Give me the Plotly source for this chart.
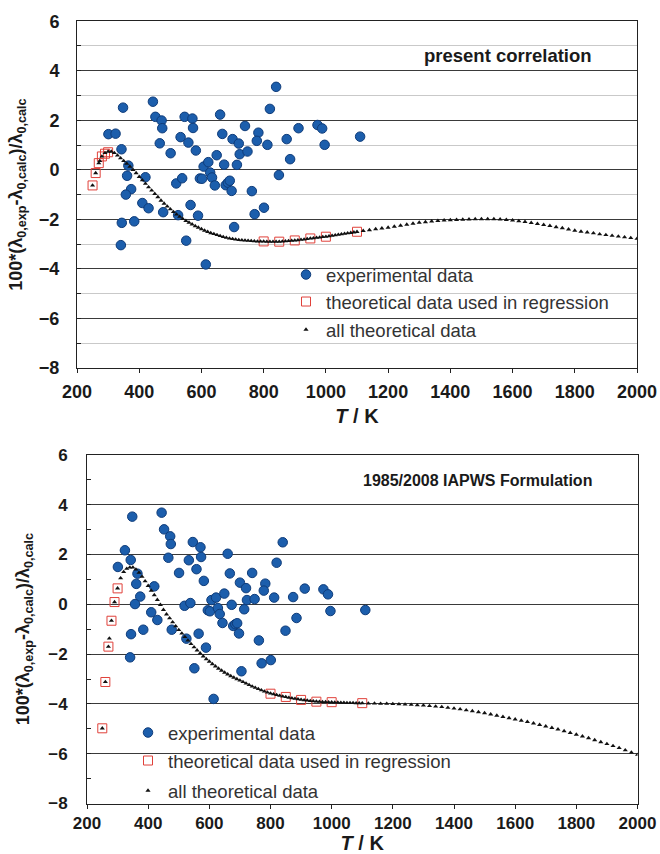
import plotly.graph_objects as go

# ---------------- data ----------------
T_exp = [348, 301, 324, 343, 365, 361, 374, 357, 344, 341,
         384, 410, 430, 420, 444, 452, 472, 474, 466, 501,
         477, 525, 519, 538, 533, 546, 558, 571, 573, 582,
         565, 589, 551, 614, 595, 602, 607, 622, 628, 634,
         643, 649, 660, 667, 673, 678, 685, 691, 697, 700,
         720, 723, 714, 705, 740, 748, 762, 771, 783, 778,
         801, 812, 820, 840, 849, 874, 885, 912, 973, 988,
         996, 1110]

dev_exp_present = [2.51, 1.44, 1.46, 0.83, 0.17, -0.24, -0.78, -1.00, -2.14, -3.04,
                   -2.08, -1.34, -1.55, -0.30, 2.75, 2.14, 1.99, 1.68, 1.07, 0.67,
                   -1.71, -1.83, -0.55, -0.34, 1.32, 2.14, 1.10, 2.07, 1.69, 0.78,
                   -1.42, -1.85, -2.86, -3.82, -0.35, -0.36, 0.13, 0.31, -0.11, -0.31,
                   -0.63, 0.59, 2.23, 1.45, 0.21, -0.62, -0.52, -0.44, -0.85, 1.24,
                   1.06, 0.63, 0.20, -2.31, 1.77, 0.74, -0.86, -1.79, 1.50, 1.17,
                   -1.53, 1.01, 2.46, 3.35, -0.21, 1.24, 0.43, 1.68, 1.81, 1.67,
                   1.01, 1.34]

dev_exp_iapws = [3.52, 1.50, 2.17, 1.78, 1.23, 0.82, 0.31, 0.01, -1.20, -2.13,
                 -1.02, -0.32, -0.63, 0.72, 3.68, 3.01, 2.73, 2.42, 1.87, 1.26,
                 -1.02, -1.38, -0.06, 0.05, 1.77, 2.50, 1.41, 2.29, 1.90, 0.94,
                 -1.18, -1.74, -2.57, -3.80, -0.24, -0.28, 0.17, 0.27, -0.15, -0.39,
                 -0.75, 0.43, 2.03, 1.24, -0.02, -0.87, -0.80, -0.76, -1.17, 0.87,
                 0.65, 0.17, -0.20, -2.69, 1.26, 0.21, -1.45, -2.37, 0.83, 0.55,
                 -2.24, 0.27, 1.67, 2.49, -1.06, 0.29, -0.55, 0.63, 0.60, 0.40,
                 -0.27, -0.23]

T_reg = [250, 260, 270, 280, 290, 300, 800, 850, 900, 950, 1000, 1100]
dev_reg_present = [-0.63, -0.13, 0.27, 0.54, 0.65, 0.71, -2.89, -2.90, -2.85, -2.77, -2.70, -2.50]
dev_reg_iapws = [-4.98, -3.12, -1.70, -0.66, 0.09, 0.64, -3.59, -3.72, -3.84, -3.91, -3.93, -3.97]

T_theo = [250, 260, 270, 273.15, 280, 290,
          300, 310, 320, 330, 340, 350, 360, 370, 380, 390,
          400, 410, 420, 430, 440, 450, 460, 470, 480, 490,
          500, 510, 520, 530, 540, 550, 560, 570, 580, 590,
          600, 610, 620, 630, 640, 650, 660, 670, 680, 690,
          700, 710, 720, 730, 740, 750, 760, 770, 780, 790,
          800, 810, 820, 830, 840, 850, 860, 870, 880, 890,
          900, 910, 920, 930, 940, 950, 960, 970, 980, 990,
          1000, 1010, 1020, 1030, 1040, 1050, 1060, 1070, 1080, 1090,
          1100, 1120, 1140, 1160, 1180,
          1200, 1220, 1240, 1260, 1280,
          1300, 1320, 1340, 1360, 1380,
          1400, 1420, 1440, 1460, 1480,
          1500, 1520, 1540, 1560, 1580,
          1600, 1620, 1640, 1660, 1680,
          1700, 1720, 1740, 1760, 1780,
          1800, 1820, 1840, 1860, 1880,
          1900, 1920, 1940, 1960, 1980,
          2000]

dev_theo_present = [-0.63, -0.13, 0.27, 0.36, 0.54, 0.68,
                    0.74, 0.74, 0.68, 0.58, 0.47, 0.36, 0.25, 0.13, 0.00, -0.13,
                    -0.28, -0.42, -0.56, -0.70, -0.83, -0.97, -1.10, -1.24, -1.36, -1.48,
                    -1.59, -1.70, -1.80, -1.89, -1.98, -2.06, -2.13, -2.20, -2.27, -2.33,
                    -2.39, -2.45, -2.50, -2.55, -2.59, -2.63, -2.67, -2.71, -2.74, -2.77,
                    -2.79, -2.81, -2.83, -2.84, -2.85, -2.86, -2.87, -2.88, -2.89, -2.89,
                    -2.89, -2.90, -2.90, -2.90, -2.90, -2.90, -2.89, -2.88, -2.87, -2.86,
                    -2.85, -2.84, -2.82, -2.81, -2.79, -2.77, -2.76, -2.74, -2.73, -2.71,
                    -2.70, -2.68, -2.66, -2.64, -2.62, -2.60, -2.58, -2.56, -2.54, -2.52,
                    -2.50, -2.46, -2.43, -2.39, -2.36,
                    -2.33, -2.29, -2.25, -2.21, -2.17,
                    -2.13, -2.11, -2.08, -2.06, -2.04,
                    -2.03, -2.02, -2.01, -2.00, -1.99,
                    -1.99, -1.99, -1.99, -2.00, -2.02,
                    -2.04, -2.07, -2.10, -2.14, -2.18,
                    -2.22, -2.26, -2.31, -2.35, -2.40,
                    -2.45, -2.49, -2.52, -2.56, -2.60,
                    -2.63, -2.66, -2.69, -2.72, -2.75,
                    -2.78]

dev_theo_iapws = [-4.98, -3.12, -1.70, -1.37, -0.66, 0.09,
                  0.64, 1.05, 1.30, 1.43, 1.48, 1.48, 1.40, 1.27, 1.11, 0.93,
                  0.74, 0.55, 0.37, 0.18, -0.02, -0.22, -0.40, -0.56, -0.72, -0.88,
                  -1.03, -1.17, -1.31, -1.45, -1.59, -1.72, -1.85, -1.97, -2.09, -2.20,
                  -2.30, -2.40, -2.49, -2.58, -2.66, -2.74, -2.81, -2.88, -2.94, -3.00,
                  -3.06, -3.12, -3.18, -3.24, -3.30, -3.35, -3.40, -3.45, -3.50, -3.54,
                  -3.58, -3.61, -3.64, -3.67, -3.70, -3.72, -3.75, -3.77, -3.79, -3.81,
                  -3.83, -3.85, -3.86, -3.88, -3.89, -3.90, -3.91, -3.92, -3.92, -3.93,
                  -3.93, -3.94, -3.94, -3.95, -3.95, -3.96, -3.96, -3.96, -3.97, -3.97,
                  -3.97, -3.98, -3.98, -3.99, -3.99,
                  -4.00, -4.01, -4.02, -4.03, -4.05,
                  -4.06, -4.08, -4.10, -4.12, -4.15,
                  -4.18, -4.21, -4.25, -4.29, -4.33,
                  -4.37, -4.42, -4.47, -4.52, -4.57,
                  -4.62, -4.67, -4.72, -4.78, -4.84,
                  -4.90, -4.96, -5.02, -5.09, -5.16,
                  -5.23, -5.30, -5.37, -5.45, -5.53,
                  -5.61, -5.69, -5.77, -5.86, -5.95,
                  -6.04]

x_ticks = [200, 400, 600, 800, 1000, 1200, 1400, 1600, 1800, 2000]
y_ticks = [6, 4, 2, 0, -2, -4, -6, -8]
legend_names = ["experimental data", "theoretical data used in regression", "all theoretical data"]
panel_titles = ["present correlation", "1985/2008 IAPWS Formulation"]

# ---------------- styles ----------------
FONT = "Liberation Sans, Arial, sans-serif"
BLUE = "#1c5eac"
BLUE_EDGE = "#0f3c7a"
RED = "#e0413a"
INK = "#1a1a1a"

W, H = 660, 854

fig = go.Figure()

panels = [
    dict(xa="x", ya="y", exp=dev_exp_present, reg=dev_reg_present, theo=dev_theo_present,
         legs=["legend", "legend2", "legend3"]),
    dict(xa="x2", ya="y2", exp=dev_exp_iapws, reg=dev_reg_iapws, theo=dev_theo_iapws,
         legs=["legend4", "legend5", "legend6"]),
]

for p in panels:
    fig.add_trace(go.Scatter(
        x=T_exp, y=p["exp"], mode="markers", name=legend_names[0],
        xaxis=p["xa"], yaxis=p["ya"], legend=p["legs"][0],
        marker=dict(symbol="circle", size=9.5, color=BLUE, line=dict(color=BLUE_EDGE, width=1)),
    ))
    fig.add_trace(go.Scatter(
        x=T_reg, y=p["reg"], mode="markers", name=legend_names[1],
        xaxis=p["xa"], yaxis=p["ya"], legend=p["legs"][1],
        marker=dict(symbol="square-open", size=9, color=RED, line=dict(width=1)),
    ))
    fig.add_trace(go.Scatter(
        x=T_theo, y=p["theo"], mode="markers", name=legend_names[2],
        xaxis=p["xa"], yaxis=p["ya"], legend=p["legs"][2],
        marker=dict(symbol="triangle-up", size=4.5, color="#111111"),
    ))

ytitle = "100*(λ<sub>0,exp</sub>-λ<sub>0,calc</sub>)/λ<sub>0,calc</sub>"

def xaxis(domain, anchor, fs, lab_off, title_off):
    return dict(
        domain=domain, anchor=anchor, range=[200, 2000], tickvals=x_ticks,
        showgrid=False, zeroline=False, showline=True, mirror=True,
        linecolor="#222222", linewidth=1, ticks="outside", ticklen=4,
        tickcolor="#222222", automargin=False, ticklabelstandoff=lab_off,
        tickfont=dict(family=FONT, size=fs, color=INK, weight="bold"),
        title=dict(text="<i>T</i> / K", standoff=title_off,
                   font=dict(family=FONT, size=20, color=INK, weight="bold")),
    )

def yaxis(domain, anchor, minor_grid, fs, lab_off, title_off):
    return dict(
        domain=domain, anchor=anchor, range=[-8, 6], tickvals=y_ticks,
        showgrid=True, gridcolor="#3a3a3a", gridwidth=1, zeroline=False,
        showline=True, mirror=True, linecolor="#222222", linewidth=1,
        ticks="inside", ticklen=4, tickcolor="#222222", ticklabelstandoff=lab_off,
        tickfont=dict(family=FONT, size=fs, color=INK, weight="bold"),
        minor=dict(dtick=1, tick0=-7, ticks="inside", ticklen=4, tickcolor="#222222",
                   showgrid=minor_grid, gridcolor="#c9c9c9", gridwidth=1),
        automargin=False,
        title=dict(text=ytitle, standoff=title_off,
                   font=dict(family=FONT, size=18, color=INK, weight="bold")),
    )

def px_x(v):
    return v / W

def px_y(v):
    return 1 - v / H

legfont = dict(family=FONT, size=18.5, color="#333333")

def legend(xpx, ypx):
    return dict(x=px_x(xpx), y=px_y(ypx), xanchor="left", yanchor="middle",
                bgcolor="rgba(0,0,0,0)", borderwidth=0, font=legfont,
                itemsizing="trace", tracegroupgap=0)

fig.update_layout(
    width=W, height=H,
    margin=dict(l=0, r=0, t=0, b=0),
    paper_bgcolor="white", plot_bgcolor="white",
    font=dict(family=FONT),
    showlegend=True,
    xaxis=xaxis([77 / W, 637 / W], "y", 18, 3, 8),
    yaxis=yaxis([px_y(368), px_y(21.2)], "x", True, 18, 13, 11),
    xaxis2=xaxis([87 / W, 637.5 / W], "y2", 17, 0, 4),
    yaxis2=yaxis([px_y(803.5), px_y(454.9)], "x2", False, 17, 15, 13),
    legend=legend(286, 275),
    legend2=legend(286, 302),
    legend3=legend(286, 330),
    legend4=legend(128, 733),
    legend5=legend(128, 761),
    legend6=legend(128, 791),
    annotations=[
        dict(text=panel_titles[0], x=1862, y=4.62, xref="x", yref="y",
             xanchor="right", yanchor="middle", showarrow=False,
             font=dict(family=FONT, size=18.5, color=INK, weight="bold")),
        dict(text=panel_titles[1], x=1858, y=4.99, xref="x2", yref="y2",
             xanchor="right", yanchor="middle", showarrow=False,
             font=dict(family=FONT, size=16, color=INK, weight="bold")),
    ],
)

fig.write_html("out.html", config={"displayModeBar": False},
               post_script="document.body.style.margin='0px';document.body.style.overflow='hidden';")
